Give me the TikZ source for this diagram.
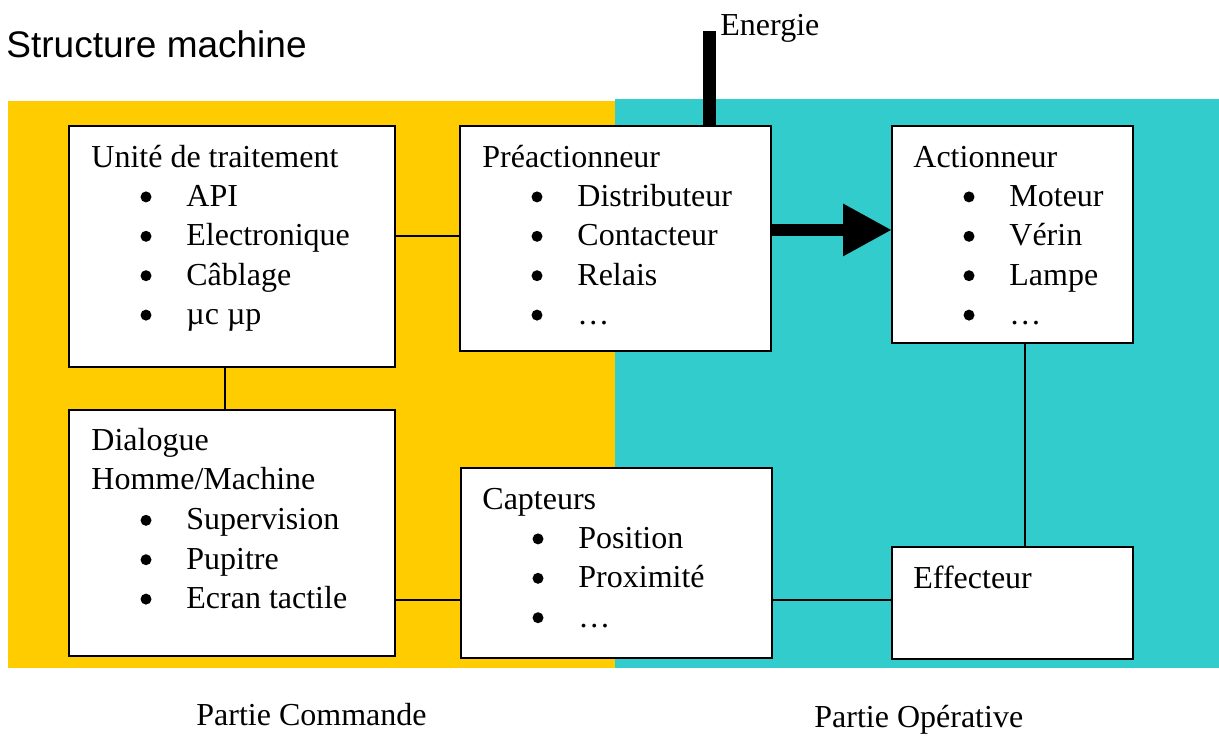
\documentclass[tikz,border=0pt]{standalone}
\usepackage{fontspec}
\setmainfont{Liberation Serif}
\newfontfamily\titlefont{Liberation Sans}
\usetikzlibrary{calc,arrows.meta}

\definecolor{cmdyellow}{HTML}{FFCC00}
\definecolor{opteal}{HTML}{33CCCC}

% one bullet line inside a panel: #1 panel, #2 line index, #3 node name, #4 text
\newcommand\puce[4]{%
  \fill ([shift={(77,{41+39.4*#2-9.5})}]#1.north west) circle[radius=2.75pt];
  \node[lbl] (#3) at ([shift={(117,{41+39.4*#2})}]#1.north west) {#4};}

\begin{document}
\begin{tikzpicture}[x=0.5pt,y=-0.5pt,
  panel/.style={draw=black,fill=white,line width=1pt,inner sep=0pt,outer sep=0pt,anchor=north west},
  lbl/.style={inner sep=0pt,anchor=base west,font=\fontsize{16pt}{19pt}\selectfont},
  wire/.style={draw=black,line width=1pt},
  power/.style={draw=black,line width=6.3pt,-{Triangle[length=24.5pt,width=24.5pt]}}]

\useasboundingbox (0,0) rectangle (1219,735);

% background zones
\fill[cmdyellow] (8,101) rectangle (615,668);
\fill[opteal] (615,99) rectangle (1219,668);

% title
\node[inner sep=0pt,anchor=base west,font=\titlefont\fontsize{18.5pt}{22pt}\selectfont] (titre) at (6,57) {Structure machine};

% panels
\node[panel,minimum width=163pt,minimum height=120.5pt] (unite) at (69,126) {};
\node[panel,minimum width=163pt,minimum height=123pt] (dial) at (69,410) {};
\node[panel,minimum width=155.5pt,minimum height=112.5pt] (pre) at (460,126) {};
\node[panel,minimum width=155.5pt,minimum height=95pt] (capt) at (461,468) {};
\node[panel,minimum width=120.5pt,minimum height=108.5pt] (act) at (892,126) {};
\node[panel,minimum width=120.5pt,minimum height=56pt] (eff) at (892,547) {};

% energy supply into the pre-actuator
\coordinate (en) at (709.5,31);
\draw[line width=6.3pt] (en) -- (en |- pre.north);
\node[lbl] (energie) at (720,35) {Energie};

% panel contents
\node[lbl] (unite-h) at ([shift={(22,41)}]unite.north west) {Unité de traitement};
\puce{unite}{1}{unite-1}{API}
\puce{unite}{2}{unite-2}{Electronique}
\puce{unite}{3}{unite-3}{Câblage}
\puce{unite}{4}{unite-4}{µc µp}

\node[lbl] (dial-h1) at ([shift={(22,40)}]dial.north west) {Dialogue};
\node[lbl] (dial-h2) at ([shift={(22,79)}]dial.north west) {Homme/Machine};
\puce{dial}{2}{dial-1}{Supervision}
\puce{dial}{3}{dial-2}{Pupitre}
\puce{dial}{4}{dial-3}{Ecran tactile}

\node[lbl] (pre-h) at ([shift={(22,41)}]pre.north west) {Préactionneur};
\puce{pre}{1}{pre-1}{Distributeur}
\puce{pre}{2}{pre-2}{Contacteur}
\puce{pre}{3}{pre-3}{Relais}
\puce{pre}{4}{pre-4}{…}

\node[lbl] (capt-h) at ([shift={(21,41)}]capt.north west) {Capteurs};
\puce{capt}{1}{capt-1}{Position}
\puce{capt}{2}{capt-2}{Proximité}
\puce{capt}{3}{capt-3}{…}

\node[lbl] (act-h) at ([shift={(21,41)}]act.north west) {Actionneur};
\puce{act}{1}{act-1}{Moteur}
\puce{act}{2}{act-2}{Vérin}
\puce{act}{3}{act-3}{Lampe}
\puce{act}{4}{act-4}{…}

\node[lbl] (eff-h) at ([shift={(21,41)}]eff.north west) {Effecteur};

% links between panels
\coordinate (ud) at ($(unite.south west)!0.478!(unite.south east)$);
\draw[wire] (ud) -- (ud |- dial.north);
\coordinate (up) at ($(pre.north west)!0.487!(pre.south west)$);
\draw[wire] (up -| unite.east) -- (up);
\coordinate (dc) at ($(capt.north west)!0.695!(capt.south west)$);
\draw[wire] (dc -| dial.east) -- (dc);
\coordinate (ce) at ($(eff.north west)!0.473!(eff.south west)$);
\draw[wire] (ce -| capt.east) -- (ce);
\coordinate (ae) at ($(act.south west)!0.55!(act.south east)$);
\draw[wire] (ae) -- (ae |- eff.north);

% power flow to the actuator
\coordinate (pa) at ($(act.north west)!0.479!(act.south west)$);
\draw[power] (pa -| pre.east) -- (pa);

% zone captions
\node[lbl] (pc) at (196,725) {Partie Commande};
\node[lbl] (po) at (814,727) {Partie Opérative};
\end{tikzpicture}
\end{document}
